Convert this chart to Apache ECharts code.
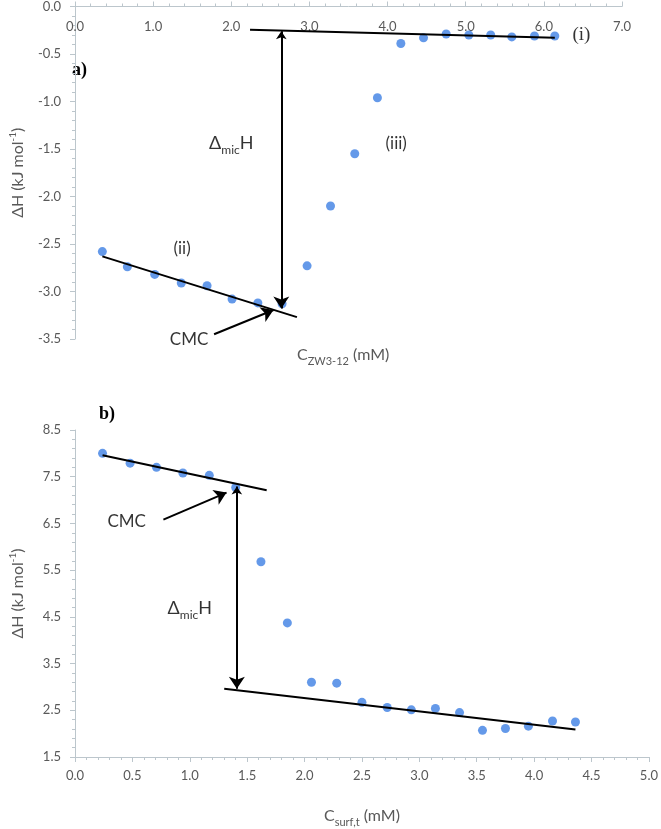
<!DOCTYPE html>
<html>
<head>
<meta charset="utf-8">
<script src="https://cdn.jsdelivr.net/npm/echarts@6/dist/echarts.min.js"></script>
<style>
html,body{margin:0;padding:0;background:#fff;}
#c{width:661px;height:829px;}
</style>
</head>
<body>
<div id="c"></div>
<script>
// ---- data (a) ZW3-12 ----
const topX = [0.35,0.67,1.02,1.36,1.69,2.01,2.34,2.65,2.97,3.27,3.58,3.87,4.17,4.46,4.75,5.04,5.32,5.59,5.88,6.14];
const topY = [-2.58,-2.74,-2.82,-2.91,-2.94,-3.08,-3.12,-3.13,-2.73,-2.10,-1.55,-0.96,-0.39,-0.33,-0.29,-0.30,-0.30,-0.32,-0.31,-0.31];
const topFitI  = [[2.24,-0.245],[6.14,-0.33]];
const topFitII = [[0.35,-2.63],[2.84,-3.27]];
const topMicArrow = [[2.64,-0.26],[2.64,-3.18]];
const topCmcArrow = [[1.78,-3.45],[2.54,-3.195]];

// ---- data (b) surf,t ----
const botX = [0.24,0.48,0.71,0.94,1.17,1.40,1.62,1.85,2.06,2.28,2.50,2.72,2.93,3.14,3.35,3.55,3.75,3.95,4.16,4.36];
const botY = [8.00,7.79,7.70,7.58,7.53,7.27,5.68,4.37,3.10,3.08,2.67,2.56,2.51,2.54,2.45,2.07,2.11,2.16,2.27,2.25];
const botFit1 = [[0.24,7.96],[1.67,7.21]];
const botFit2 = [[1.30,2.96],[4.36,2.09]];
const botMicArrow = [[1.41,7.29],[1.41,2.96]];
const botCmcArrow = [[0.77,6.58],[1.32,7.16]];

// tick settings
const topXTicks = {min:0, max:7, interval:1};
const topYTicks = {min:-3.5, max:0, interval:0.5};
const botXTicks = {min:0, max:5, interval:0.5};
const botYTicks = {min:1.5, max:8.5, interval:1};

// annotations (data coordinates)
const topNotes = [
  {text:'(i)', at:[6.48,-0.30], kind:'serif'},
  {text:'(ii)', at:[1.37,-2.55], kind:'sans'},
  {text:'(iii)', at:[4.11,-1.44], kind:'sans'},
  {text:'{a|Δ}{b|mic}{a|H}', at:[2.0,-1.44], kind:'sans'},
  {text:'CMC', at:[1.46,-3.51], kind:'sans'}
];
const botNotes = [
  {text:'CMC', at:[0.45,6.55], kind:'sans'},
  {text:'{a|Δ}{b|mic}{a|H}', at:[1.0,4.69], kind:'sans'}
];

const AX = '#bcc6cc';
const LBL = '#595959';
const FONT = 'Lato';
const DOT = '#3d7fe4';

function yAxisCfg(grid, t){
  return {
    type:'value', gridIndex:grid, min:t.min, max:t.max, interval:t.interval,
    axisLine:{show:true, lineStyle:{color:AX, width:1}},
    axisTick:{show:true, length:5, lineStyle:{color:AX}},
    minorTick:{show:true, splitNumber:5, length:3, lineStyle:{color:AX}},
    splitLine:{show:false}, minorSplitLine:{show:false},
    axisLabel:{color:LBL, fontFamily:FONT, fontSize:13, margin:14, formatter:v=>v.toFixed(1)},
    name:'{n|ΔH (kJ mol}{s|-1}{n|)}',
    nameLocation:'middle', nameRotate:90, nameGap:47,
    nameTextStyle:{rich:{
      n:{fontFamily:FONT, fontSize:16, color:LBL, lineHeight:20, verticalAlign:'middle'},
      s:{fontFamily:FONT, fontSize:10, color:LBL, lineHeight:20, verticalAlign:'top'}
    }}
  };
}

function noteSeries(notes, xi, yi){
  return {
    type:'scatter', xAxisIndex:xi, yAxisIndex:yi, silent:true, z:5, clip:false,
    symbol:'circle', symbolSize:1, itemStyle:{color:'rgba(0,0,0,0)'},
    data: notes.map(n=>({
      value:n.at,
      label:{
        show:true, position:'inside', formatter:n.text, color:'#000',
        fontFamily: n.kind==='serif' ? 'Liberation Serif' : FONT,
        fontSize: n.kind==='serif' ? 19 : 17,
        rich:{
          a:{fontFamily:FONT, fontSize:18, color:'#000', lineHeight:26, verticalAlign:'middle'},
          b:{fontFamily:FONT, fontSize:12, color:'#000', lineHeight:26, verticalAlign:'bottom'}
        }
      }
    }))
  };
}

function lineSeries(pts, xi, yi){
  return {type:'line', xAxisIndex:xi, yAxisIndex:yi, data:pts, showSymbol:false, symbol:'none',
    silent:true, z:3, lineStyle:{color:'#000', width:2}};
}
function arrowSeries(pts, xi, yi, both){
  return {type:'lines', coordinateSystem:'cartesian2d', xAxisIndex:xi, yAxisIndex:yi, silent:true, z:4,
    symbol: both ? ['arrow','arrow'] : ['none','arrow'], symbolSize:[8,12],
    lineStyle:{color:'#000', width:2, opacity:1},
    data:[{coords:pts}]};
}

const chart = echarts.init(document.getElementById('c'), null, {renderer:'canvas'});
chart.setOption({
  animation:false,
  backgroundColor:'#fff',
  grid:[
    {left:64, top:6, width:558, height:333},
    {left:63, top:430, width:587, height:338}
  ],
  xAxis:[
    {type:'value', gridIndex:0, position:'top', min:topXTicks.min, max:topXTicks.max, interval:topXTicks.interval,
     axisLine:{show:true, onZero:false, lineStyle:{color:AX}},
     axisTick:{show:true, length:5, lineStyle:{color:AX}},
     minorTick:{show:true, splitNumber:5, length:3, lineStyle:{color:AX}},
     splitLine:{show:false},
     axisLabel:{inside:true, margin:14, color:LBL, fontFamily:FONT, fontSize:13, formatter:v=>v.toFixed(1)}},
    {type:'value', gridIndex:1, position:'bottom', min:botXTicks.min, max:botXTicks.max, interval:botXTicks.interval,
     axisLine:{show:true, onZero:false, lineStyle:{color:AX}},
     axisTick:{show:true, length:5, lineStyle:{color:AX}},
     minorTick:{show:true, splitNumber:5, length:3, lineStyle:{color:AX}},
     splitLine:{show:false},
     axisLabel:{margin:12, color:LBL, fontFamily:FONT, fontSize:13, formatter:v=>v.toFixed(1)},
     name:'{n|C}{b|surf,t}{n| (mM)}', nameLocation:'middle', nameGap:47,
     nameTextStyle:{rich:{
       n:{fontFamily:FONT, fontSize:16, color:LBL, lineHeight:24, verticalAlign:'middle'},
       b:{fontFamily:FONT, fontSize:11, color:LBL, lineHeight:24, verticalAlign:'bottom'}
     }}}
  ],
  yAxis:[ yAxisCfg(0, topYTicks), yAxisCfg(1, botYTicks) ],
  graphic:[
    {type:'text', left:72, top:61, style:{text:'a)', font:'bold 18px "Liberation Serif"', fill:'#000'}},
    {type:'text', left:99, top:405, style:{text:'b)', font:'bold 18px "Liberation Serif"', fill:'#000'}},
    {type:'text', left:297, top:347, style:{
      text:'{n|C}{b|ZW3-12}{n| (mM)}',
      rich:{
        n:{fontFamily:FONT, fontSize:16, fill:LBL, lineHeight:24, verticalAlign:'middle'},
        b:{fontFamily:FONT, fontSize:11, fill:LBL, lineHeight:24, verticalAlign:'bottom'}
      }}}
  ],
  series:[
    {type:'scatter', xAxisIndex:0, yAxisIndex:0, symbolSize:9, itemStyle:{color:DOT}, z:2,
     data: topX.map((x,i)=>[x, topY[i]])},
    lineSeries(topFitI,0,0), lineSeries(topFitII,0,0),
    arrowSeries(topMicArrow,0,0,true), arrowSeries(topCmcArrow,0,0,false),
    noteSeries(topNotes,0,0),
    {type:'scatter', xAxisIndex:1, yAxisIndex:1, symbolSize:9, itemStyle:{color:DOT}, z:2,
     data: botX.map((x,i)=>[x, botY[i]])},
    lineSeries(botFit1,1,1), lineSeries(botFit2,1,1),
    arrowSeries(botMicArrow,1,1,true), arrowSeries(botCmcArrow,1,1,false),
    noteSeries(botNotes,1,1)
  ]
});
</script>
</body>
</html>
